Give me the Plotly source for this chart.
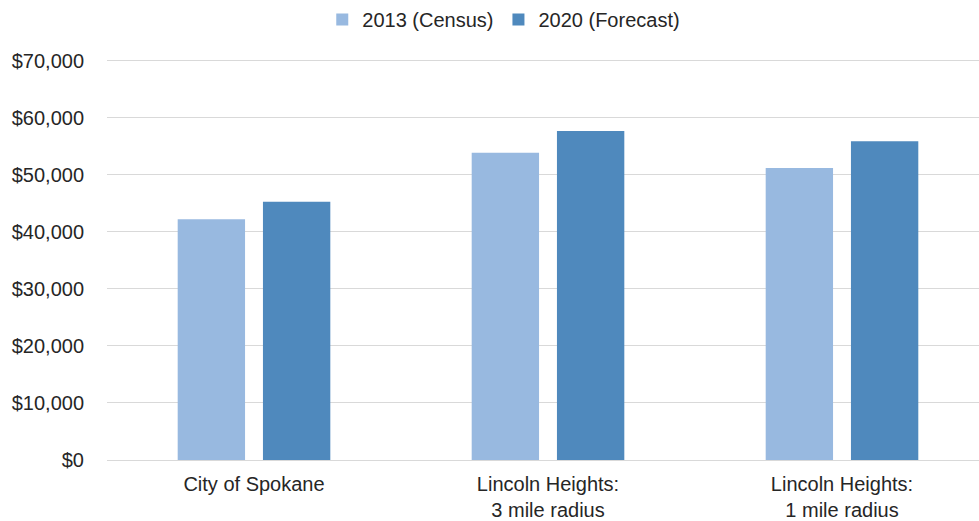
import plotly.graph_objects as go

# Median household income by area
categories = ["City of Spokane", "Lincoln Heights:<br>3 mile radius", "Lincoln Heights:<br>1 mile radius"]
income_2013 = [42200, 53900, 51200]
income_2020 = [45300, 57700, 55900]
y_ticks = [0, 10000, 20000, 30000, 40000, 50000, 60000, 70000]
y_tick_labels = ["$0", "$10,000", "$20,000", "$30,000", "$40,000", "$50,000", "$60,000", "$70,000"]

font_family = "Liberation Sans, Arial, sans-serif"
text_color = "#262626"

fig = go.Figure()
fig.add_trace(go.Bar(name="2013 (Census)", x=categories, y=income_2013,
                     marker=dict(color="#98b9e0", line=dict(width=0))))
fig.add_trace(go.Bar(name="2020 (Forecast)", x=categories, y=income_2020,
                     marker=dict(color="#4f89bd", line=dict(width=0))))

fig.update_layout(
    width=979, height=521,
    margin=dict(l=107, r=0, t=58, b=61),
    paper_bgcolor="white", plot_bgcolor="white",
    barmode="group", bargap=0.42, bargroupgap=0.21,
    font=dict(family=font_family, size=20, color=text_color),
    showlegend=True,
    legend=dict(orientation="h", x=0.455, xanchor="center", y=1.0, yref="container",
                yanchor="top", font=dict(size=20, color=text_color),
                itemwidth=30, traceorder="normal", itemclick=False),
    xaxis=dict(range=[-0.5, 2.466], showgrid=False, showline=False, zeroline=False,
               automargin=False,
               tickfont=dict(size=20, color=text_color), ticks="", ticklabelstandoff=10),
    yaxis=dict(range=[0, 70500], tickvals=y_ticks, ticktext=y_tick_labels,
               showgrid=True, gridcolor="#d9d9d9", gridwidth=1,
               zeroline=True, zerolinecolor="#d9d9d9", zerolinewidth=1,
               showline=False, ticks="", ticklabelstandoff=22, automargin=False,
               tickfont=dict(size=20, color=text_color)),
)

fig.write_html("out.html")
